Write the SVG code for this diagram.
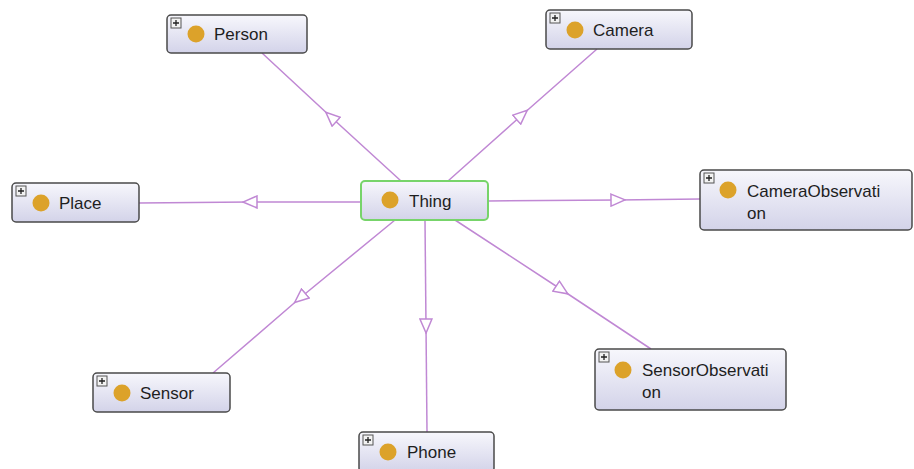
<svg xmlns="http://www.w3.org/2000/svg" width="914" height="469" viewBox="0 0 914 469">
  <style>
    .box { fill: url(#nodeFill); stroke: #4a4a4a; stroke-width: 1.5; }
    .root { fill: url(#nodeFill); stroke: #77d46a; stroke-width: 2; }
    .dot { fill: #dca22a; }
    .label { font-family: "Liberation Sans", Arial, sans-serif; font-size: 17px; fill: #1e1e1e; }
    .plusBox { fill: #f2f2f2; stroke: #555; stroke-width: 1; }
    .plus { stroke: #222; stroke-width: 1.3; }
    .edge { fill: none; stroke: #c088d4; stroke-width: 1.5; marker-mid: url(#hollow); }
  </style>
  <defs>
    <linearGradient id="nodeFill" x1="0" y1="0" x2="0" y2="1">
      <stop offset="0" stop-color="#f7f7fc"/>
      <stop offset="1" stop-color="#d3d3e9"/>
    </linearGradient>
    <marker id="hollow" viewBox="0 0 16 14" markerWidth="16" markerHeight="14" refX="8" refY="7" orient="auto" markerUnits="userSpaceOnUse">
      <path d="M1,1 L15,7 L1,13 Z" fill="#ffffff" stroke="#c088d4" stroke-width="1.5"/>
    </marker>
    <g id="expand">
      <rect class="plusBox" x="0" y="0" width="10" height="10"/>
      <path class="plus" d="M2,5 H8 M5,2 V8"/>
    </g>
  </defs>

  <rect width="914" height="469" fill="#ffffff"/>

  <g id="connectors">
    <path class="edge" d="M401,181 L331,117 L262,53"/>
    <path class="edge" d="M448,181 L522,115 L597,49"/>
    <path class="edge" d="M361,202 L250,202 L139,203"/>
    <path class="edge" d="M488,201 L618,200 L700,199"/>
    <path class="edge" d="M395,220 L300,298 L213,373"/>
    <path class="edge" d="M425,220 L426,326 L427,432"/>
    <path class="edge" d="M455,220 L562,290 L651,349"/>
  </g>

  <g id="thing">
    <rect class="root" x="361" y="181" width="127" height="39" rx="4"/>
    <circle class="dot" cx="390" cy="200" r="8.5"/>
    <text class="label" x="409" y="207">Thing</text>
  </g>

  <g id="person">
    <rect class="box" x="167" y="15" width="140" height="38" rx="4"/>
    <use href="#expand" x="171" y="18"/>
    <circle class="dot" cx="196" cy="34" r="8.5"/>
    <text class="label" x="214" y="40">Person</text>
  </g>

  <g id="camera">
    <rect class="box" x="546" y="10" width="146" height="39" rx="4"/>
    <use href="#expand" x="550" y="13"/>
    <circle class="dot" cx="575" cy="30" r="8.5"/>
    <text class="label" x="593" y="36">Camera</text>
  </g>

  <g id="place">
    <rect class="box" x="12" y="183" width="127" height="39" rx="4"/>
    <use href="#expand" x="16" y="186"/>
    <circle class="dot" cx="41" cy="203" r="8.5"/>
    <text class="label" x="59" y="209">Place</text>
  </g>

  <g id="camera-observation">
    <rect class="box" x="700" y="170" width="212" height="60" rx="4"/>
    <use href="#expand" x="704" y="173"/>
    <circle class="dot" cx="728" cy="190" r="8.5"/>
    <text class="label" x="747" y="197">CameraObservati</text>
    <text class="label" x="747" y="219">on</text>
  </g>

  <g id="sensor">
    <rect class="box" x="93" y="373" width="137" height="39" rx="4"/>
    <use href="#expand" x="97" y="376"/>
    <circle class="dot" cx="122" cy="393" r="8.5"/>
    <text class="label" x="140" y="399">Sensor</text>
  </g>

  <g id="phone">
    <rect class="box" x="359" y="432" width="135" height="40" rx="4"/>
    <use href="#expand" x="363" y="435"/>
    <circle class="dot" cx="388" cy="452" r="8.5"/>
    <text class="label" x="407" y="458">Phone</text>
  </g>

  <g id="sensor-observation">
    <rect class="box" x="595" y="349" width="191" height="61" rx="4"/>
    <use href="#expand" x="599" y="352"/>
    <circle class="dot" cx="623" cy="370" r="8.5"/>
    <text class="label" x="642" y="376">SensorObservati</text>
    <text class="label" x="642" y="398">on</text>
  </g>
</svg>
